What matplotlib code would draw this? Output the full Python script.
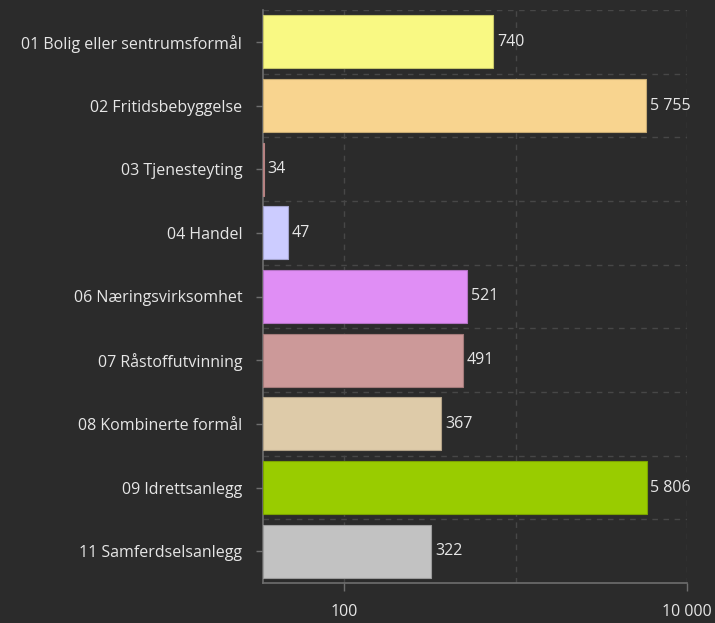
import matplotlib.pyplot as plt
from matplotlib.colors import to_rgb
from matplotlib.ticker import FixedLocator, NullLocator

# Areal per formål (log-skala)
categories = [
    "01 Bolig eller sentrumsformål",
    "02 Fritidsbebyggelse",
    "03 Tjenesteyting",
    "04 Handel",
    "06 Næringsvirksomhet",
    "07 Råstoffutvinning",
    "08 Kombinerte formål",
    "09 Idrettsanlegg",
    "11 Samferdselsanlegg",
]
values = [740, 5755, 34, 47, 521, 491, 367, 5806, 322]
colors = ["#f9f983", "#f8d48f", "#e3a3a3", "#ccccff", "#e08ef5",
          "#cc9999", "#decba9", "#99cc00", "#c2c2c2"]

x_min, x_max = 33.7, 10000
x_ticks = [100, 10000]
x_grid = [100, 1000, 10000]

BG = "#2b2b2b"
TEXT = "#e6e6e6"
AXIS = "#6e6e6e"
GRID = "#474747"
FS = 11.5


def fmt(v):
    return f"{v:,}".replace(",", " ")


def darker(c, f=0.8):
    r, g, b = to_rgb(c)
    return (r * f, g * f, b * f)


def main():
    plt.rcParams['font.family'] = ['Open Sans', 'DejaVu Sans']
    fig = plt.figure(figsize=(7.15, 6.23), dpi=100, facecolor=BG)
    ax = fig.add_axes([263 / 715, 1 - 583 / 623, 424 / 715, 573 / 623])
    ax.set_facecolor(BG)

    n = len(categories)
    ypos = list(range(n))
    widths = [v - x_min for v in values]
    ax.barh(ypos, widths, left=x_min, height=0.83, color=colors,
            edgecolor=[darker(c) for c in colors], linewidth=0.8, zorder=3)

    # value labels just right of each bar
    for y, v in zip(ypos, values):
        ax.text(v * 1.055, y + 0.0, fmt(v), color=TEXT, fontsize=FS,
                va='center', ha='left', zorder=4)

    ax.set_xscale('log')
    ax.set_xlim(x_min, x_max)
    ax.set_ylim(n - 0.5, -0.5)

    # dashed grid: verticals at decades, horizontals between bands
    for gx in x_grid:
        ax.axvline(gx, color=GRID, linestyle=(0, (4, 4)), linewidth=1, zorder=1)
    for b in range(n):
        ax.axhline(b - 0.5, color=GRID, linestyle=(0, (4, 4)), linewidth=1, zorder=1)

    ax.xaxis.set_major_locator(FixedLocator(x_ticks))
    ax.xaxis.set_minor_locator(NullLocator())
    ax.set_xticklabels([fmt(t) for t in x_ticks])
    ax.set_yticks(ypos)
    ax.set_yticklabels(categories)

    ax.tick_params(axis='x', colors=AXIS, labelcolor=TEXT, labelsize=FS,
                   length=6, width=1, pad=9)
    ax.tick_params(axis='y', colors=AXIS, labelcolor=TEXT, labelsize=FS,
                   length=5, width=1, pad=10)

    for side in ['top', 'right']:
        ax.spines[side].set_visible(False)
    for side in ['left', 'bottom']:
        ax.spines[side].set_color(AXIS)
        ax.spines[side].set_linewidth(1.2)

    fig.savefig('out.png', dpi=100, facecolor=BG)
    plt.close(fig)


if __name__ == "__main__":
    main()
